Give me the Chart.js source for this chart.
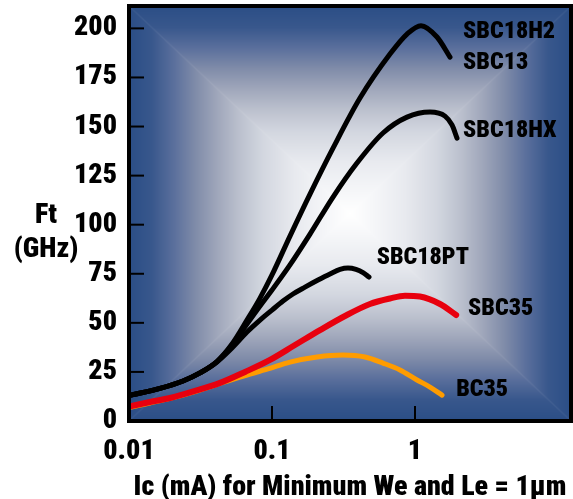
<!DOCTYPE html>
<html>
<head>
<meta charset="utf-8">
<script src="https://cdn.jsdelivr.net/npm/chart.js@4/dist/chart.umd.min.js"></script>
<style>
  html, body { margin: 0; padding: 0; background: #fff; }
</style>
</head>
<body>
<canvas id="ftChart" width="573" height="499"></canvas>
<script>
// data (Ic in mA, Ft in GHz)
const h2Ic = [0.01, 0.01648, 0.02387, 0.03136, 0.04125, 0.05253, 0.06685, 0.08244, 0.1, 0.1336, 0.1844, 0.2671, 0.4124, 0.6686, 0.8792, 1.1015, 1.4251, 1.7571];
const h2Ft = [13.0, 16.6, 20.4, 24.5, 30.3, 39.2, 51.4, 62.6, 74.4, 94.2, 115.6, 139.0, 164.5, 186.9, 197.1, 201.4, 195.6, 185.4];

const hxIc = [0.01, 0.01648, 0.02387, 0.03136, 0.04125, 0.05253, 0.06685, 0.08244, 0.1, 0.1336, 0.1844, 0.2671, 0.393, 0.5973, 0.8792, 1.2734, 1.6214, 1.8144, 1.9664];
const hxFt = [13.0, 16.6, 20.4, 24.5, 30.3, 38.7, 49.4, 58.6, 66.7, 79.5, 95.2, 114.1, 131.4, 146.7, 154.8, 157.4, 155.3, 150.8, 144.1];

const ptIc = [0.01, 0.01648, 0.02387, 0.03136, 0.04125, 0.05253, 0.06685, 0.08244, 0.1, 0.1194, 0.1402, 0.1701, 0.2098, 0.2544, 0.2989, 0.34, 0.3867, 0.433, 0.4768];
const ptFt = [13.0, 16.6, 20.4, 24.5, 30.1, 37.2, 45.3, 51.4, 56.5, 61.1, 64.7, 68.2, 71.8, 74.9, 77.2, 77.9, 77.2, 75.6, 73.3];

const sbc35Ic = [0.01, 0.01403, 0.01935, 0.02893, 0.04329, 0.06476, 0.0968, 0.1448, 0.2166, 0.324, 0.4844, 0.6686, 0.8513, 1.084, 1.496, 1.94];
const sbc35Ft = [7.4, 9.7, 11.7, 15.3, 19.4, 25.0, 31.1, 38.7, 46.3, 53.5, 59.6, 62.4, 63.8, 63.4, 59.6, 54.0];

const bc35Ic = [0.01, 0.01403, 0.01935, 0.02893, 0.03994, 0.05973, 0.09376, 0.1336, 0.2064, 0.3136, 0.447, 0.5973, 0.7855, 1.033, 1.273, 1.545];
const bc35Ft = [6.9, 9.2, 11.5, 15.0, 18.3, 22.4, 26.5, 30.0, 32.6, 33.6, 32.6, 29.5, 26.0, 20.9, 17.3, 13.2];

// axis ticks
const xTicks = [0.01, 0.1, 1];
const xTickLabels = ['0.01', '0.1', '1'];
const yTicks = [0, 25, 50, 75, 100, 125, 150, 175, 200];

// curve names written next to the curves (anchor in data units)
const tagText = ['SBC18H2', 'SBC13', 'SBC18HX', 'SBC18PT', 'SBC35', 'BC35'];
const tagIc = [2.17, 2.17, 2.17, 0.54, 2.35, 1.94];
const tagFt = [198.4, 182.6, 147.5, 82.9, 57, 15.8];

const FONT = "'Roboto Condensed', 'Open Sans Condensed', 'DejaVu Sans Condensed', sans-serif";
const WEIGHT = '900';

function pts(xs, ys) {
  return xs.map((x, i) => ({ x: x, y: ys[i] }));
}

// colour ramp of the panel, from the border (0) to the middle (1)
const rampPos = [0, 0.1, 0.2, 0.3, 0.4, 0.5, 0.6, 0.75, 0.9, 1];
const rampCol = [
  [43, 78, 134], [56, 87, 140], [90, 111, 156], [128, 140, 169], [160, 167, 187],
  [188, 193, 206], [210, 214, 223], [232, 234, 239], [246, 247, 249], [255, 255, 255]
];

function ramp(t) {
  let i = 1;
  while (i < rampPos.length - 1 && t > rampPos[i]) i++;
  const f = Math.max(0, Math.min(1, (t - rampPos[i - 1]) / (rampPos[i] - rampPos[i - 1])));
  const a = rampCol[i - 1], b = rampCol[i];
  return [a[0] + (b[0] - a[0]) * f, a[1] + (b[1] - a[1]) * f, a[2] + (b[2] - a[2]) * f];
}

const panelBg = {
  id: 'panelBg',
  beforeDraw(chart) {
    const ctx = chart.ctx;
    const a = chart.chartArea;
    const x0 = Math.round(a.left), y0 = Math.round(a.top);
    const w = Math.round(a.right) - x0, h = Math.round(a.bottom) - y0;
    const hw = w / 2, hh = h / 2;
    const img = ctx.createImageData(w, h);
    for (let j = 0; j < h; j++) {
      const dv = Math.min(j, h - 1 - j) / hh;
      for (let i = 0; i < w; i++) {
        const dh = Math.min(i, w - 1 - i) / hw;
        const c = ramp(Math.min(dh, dv));
        // faint light seam along the diagonals
        const s = Math.max(0, 1 - Math.abs(dh - dv) * hw / 2) * 0.05;
        const k = (j * w + i) * 4;
        img.data[k] = c[0] + (255 - c[0]) * s;
        img.data[k + 1] = c[1] + (255 - c[1]) * s;
        img.data[k + 2] = c[2] + (255 - c[2]) * s;
        img.data[k + 3] = 255;
      }
    }
    ctx.putImageData(img, x0, y0);
  },
  afterDraw(chart) {
    const ctx = chart.ctx;
    const a = chart.chartArea;
    const xs = chart.scales.x;
    const ys = chart.scales.y;
    ctx.save();
    // inward tick marks
    ctx.strokeStyle = '#000';
    ctx.lineWidth = 2;
    yTicks.forEach(v => {
      if (v === 0) return;
      const y = ys.getPixelForValue(v);
      ctx.beginPath();
      ctx.moveTo(a.left, y);
      ctx.lineTo(a.left + 15, y);
      ctx.stroke();
    });
    xTicks.forEach(v => {
      if (v === xTicks[0]) return;
      const x = xs.getPixelForValue(v);
      ctx.beginPath();
      ctx.moveTo(x, a.bottom);
      ctx.lineTo(x, a.bottom - 15);
      ctx.stroke();
    });
    // frame
    ctx.lineWidth = 4;
    ctx.strokeRect(a.left, a.top, a.right - a.left, a.bottom - a.top);

    // curve names
    ctx.fillStyle = '#000';
    ctx.font = WEIGHT + ' 24px ' + FONT;
    ctx.textAlign = 'left';
    ctx.textBaseline = 'middle';
    tagText.forEach((t, i) => {
      ctx.fillText(t, xs.getPixelForValue(tagIc[i]), ys.getPixelForValue(tagFt[i]));
    });

    // y title, horizontal on two lines
    ctx.font = WEIGHT + ' 28px ' + FONT;
    ctx.textAlign = 'center';
    ctx.fillText('Ft', 46, 216);
    ctx.fillText('(GHz)', 46, 250);
    ctx.restore();
  }
};

const lineStyle = {
  pointRadius: 0, borderWidth: 5, cubicInterpolationMode: 'monotone',
  borderCapStyle: 'round', borderJoinStyle: 'round', fill: false
};

new Chart(document.getElementById('ftChart'), {
  type: 'line',
  data: {
    datasets: [
      { label: 'SBC18H2', data: pts(h2Ic, h2Ft), borderColor: '#000', order: 2, ...lineStyle },
      { label: 'SBC18HX', data: pts(hxIc, hxFt), borderColor: '#000', order: 3, ...lineStyle },
      { label: 'SBC18PT', data: pts(ptIc, ptFt), borderColor: '#000', order: 4, ...lineStyle },
      { label: 'SBC35', data: pts(sbc35Ic, sbc35Ft), borderColor: '#e8000e', order: 0, ...lineStyle, borderWidth: 6 },
      { label: 'BC35', data: pts(bc35Ic, bc35Ft), borderColor: '#ff9c00', order: 1, ...lineStyle }
    ]
  },
  options: {
    responsive: false,
    animation: false,
    devicePixelRatio: 1,
    layout: { padding: { top: 6, right: 2, left: 0, bottom: 0 } },
    plugins: { legend: { display: false }, tooltip: { enabled: false } },
    scales: {
      x: {
        type: 'logarithmic',
        min: 0.01,
        max: 12.33,
        grid: { display: false, drawTicks: false },
        border: { display: false },
        afterBuildTicks(scale) { scale.ticks = xTicks.map(v => ({ value: v })); },
        afterFit(scale) {
          scale.height = 78;
          scale.paddingLeft = 0;
          scale.paddingRight = 0;
        },
        ticks: {
          autoSkip: false,
          maxRotation: 0,
          padding: 14,
          color: '#000',
          font: { family: FONT, size: 28, weight: WEIGHT },
          callback: (v) => xTickLabels[xTicks.indexOf(v)]
        },
        title: {
          display: true,
          text: 'Ic (mA) for Minimum We and Le = 1\u00b5m',
          color: '#000',
          font: { family: FONT, size: 28, weight: WEIGHT, lineHeight: 0.8 },
          padding: { top: 0, bottom: 0 }
        }
      },
      y: {
        min: 0,
        max: 211.4,
        grid: { display: false, drawTicks: false },
        border: { display: false },
        afterBuildTicks(scale) { scale.ticks = yTicks.map(v => ({ value: v })); },
        afterFit(scale) {
          scale.width = 129;
          scale.paddingTop = 0;
          scale.paddingBottom = 0;
        },
        ticks: {
          padding: 12,
          color: '#000',
          font: { family: FONT, size: 28, weight: WEIGHT }
        }
      }
    }
  },
  plugins: [panelBg]
});
</script>
</body>
</html>
